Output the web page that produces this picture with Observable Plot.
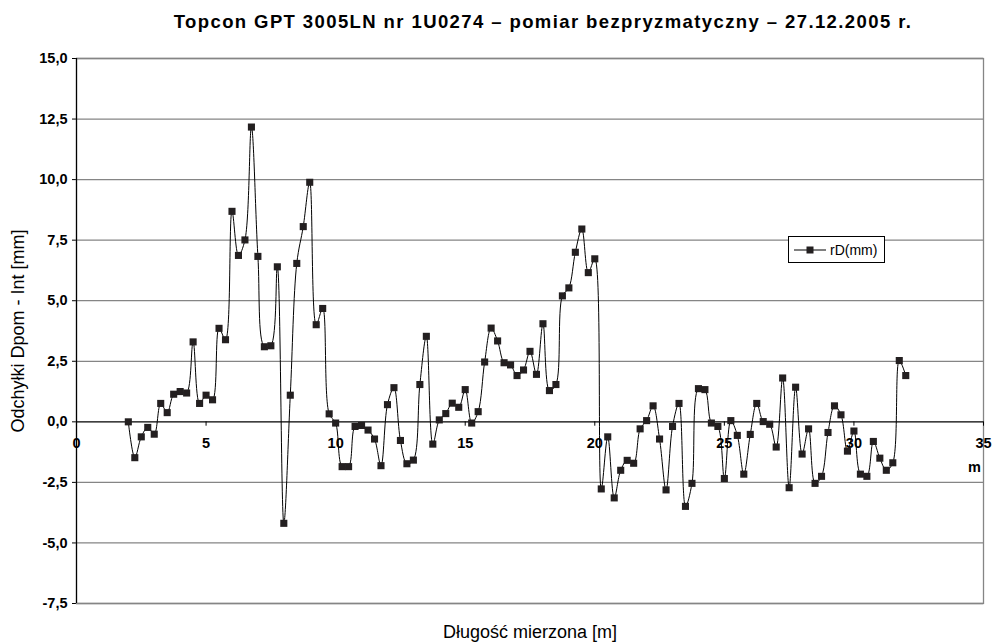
<!DOCTYPE html>
<html>
<head>
<meta charset="utf-8">
<script src="https://cdn.jsdelivr.net/npm/d3@7"></script>
<script src="https://cdn.jsdelivr.net/npm/@observablehq/plot@0.6"></script>
<style>
  html, body { margin: 0; padding: 0; background: #fff; }
  #wrap { position: relative; width: 995px; height: 642px; font-family: "Liberation Sans", Arial, sans-serif; }
  #legend { position: absolute; left: 788px; top: 236px; width: 95px; height: 25px; border: 1px solid #000; background: #fff;
            display: flex; align-items: center; font-size: 14px; color: #000; }
  #legend svg { margin-left: 5px; margin-right: 4px; }
</style>
</head>
<body>
<div id="wrap"></div>
<script>
const title = "Topcon GPT 3005LN nr 1U0274 – pomiar bezpryzmatyczny – 27.12.2005 r.";
const xLabel = "Długość mierzona [m]";
const yLabel = "Odchyłki Dpom - Int [mm]";
const unitLabel = "m";
const seriesName = "rD(mm)";

const xTicks = [0, 5, 10, 15, 20, 25, 30, 35];
const yTicks = [-7.5, -5, -2.5, 0, 2.5, 5, 7.5, 10, 12.5, 15];

const distance = [
  2.00, 2.25, 2.50, 2.75, 3.00, 3.25, 3.50, 3.75, 4.00, 4.25,
  4.50, 4.75, 5.00, 5.25, 5.50, 5.75, 6.00, 6.25, 6.50, 6.75,
  7.00, 7.25, 7.50, 7.75, 8.00, 8.25, 8.50, 8.75, 9.00, 9.25,
  9.50, 9.75, 10.00, 10.25, 10.50, 10.75, 11.00, 11.25, 11.50, 11.75,
  12.00, 12.25, 12.50, 12.75, 13.00, 13.25, 13.50, 13.75, 14.00, 14.25,
  14.50, 14.75, 15.00, 15.25, 15.50, 15.75, 16.00, 16.25, 16.50, 16.75,
  17.00, 17.25, 17.50, 17.75, 18.00, 18.25, 18.50, 18.75, 19.00, 19.25,
  19.50, 19.75, 20.00, 20.25, 20.50, 20.75, 21.00, 21.25, 21.50, 21.75,
  22.00, 22.25, 22.50, 22.75, 23.00, 23.25, 23.50, 23.75, 24.00, 24.25,
  24.50, 24.75, 25.00, 25.25, 25.50, 25.75, 26.00, 26.25, 26.50, 26.75,
  27.00, 27.25, 27.50, 27.75, 28.00, 28.25, 28.50, 28.75, 29.00, 29.25,
  29.50, 29.75, 30.00, 30.25, 30.50, 30.75, 31.00, 31.25, 31.50, 31.75,
  32.00
];
const rD = [
  0.00, -1.48, -0.62, -0.23, -0.51, 0.76, 0.38, 1.14, 1.25, 1.19,
  3.30, 0.76, 1.10, 0.91, 3.86, 3.39, 8.69, 6.87, 7.51, 12.17,
  6.83, 3.10, 3.14, 6.40, -4.19, 1.10, 6.54, 8.06, 9.89, 4.01,
  4.68, 0.33, -0.05, -1.85, -1.85, -0.19, -0.15, -0.34, -0.71, -1.81,
  0.71, 1.41, -0.77, -1.73, -1.58, 1.54, 3.53, -0.92, 0.08, 0.34,
  0.77, 0.60, 1.33, -0.05, 0.42, 2.47, 3.87, 3.34, 2.44, 2.35,
  1.91, 2.14, 2.91, 1.96, 4.05, 1.29, 1.54, 5.20, 5.53, 7.00,
  7.96, 6.16, 6.73, -2.77, -0.62, -3.14, -2.00, -1.59, -1.71, -0.29,
  0.05, 0.66, -0.71, -2.81, -0.19, 0.76, -3.49, -2.54, 1.37, 1.33,
  -0.05, -0.19, -2.34, 0.05, -0.56, -2.16, -0.52, 0.76, 0.01, -0.10,
  -1.04, 1.81, -2.72, 1.43, -1.33, -0.29, -2.54, -2.25, -0.44, 0.66,
  0.29, -1.21, -0.38, -2.16, -2.25, -0.81, -1.50, -2.00, -1.69, 2.53,
  1.91
];

const data = distance.map((x, i) => ({x, y: rD[i]}));
const fmt = d => d.toFixed(1).replace(".", ",");
const ink = "#231f20";

const chart = Plot.plot({
  width: 995,
  height: 642,
  marginLeft: 76,
  marginRight: 12,
  marginTop: 58,
  marginBottom: 39,
  style: {fontFamily: "'Liberation Sans', Arial, sans-serif", fontSize: "14.5px", fontWeight: "bold", color: "#000", background: "#fff"},
  x: {domain: [xTicks[0], xTicks[xTicks.length - 1]], axis: null},
  y: {domain: [yTicks[0], yTicks[yTicks.length - 1]], ticks: yTicks, tickFormat: fmt, tickSize: 4, tickPadding: 5, label: null},
  marks: [
    Plot.ruleY(yTicks.filter(d => d !== 0), {stroke: "#858585", strokeWidth: 1.3}),
    Plot.frame({stroke: "#858585", strokeWidth: 1.3}),
    Plot.ruleY([0], {stroke: "#000", strokeWidth: 1.2}),
    Plot.ruleX([0], {stroke: "#000", strokeWidth: 1.2}),
    Plot.ruleX(xTicks.slice(1), {x: d => d, y1: 0, y2: -0.18, stroke: "#000"}),
    Plot.text(xTicks, {x: d => d, y: 0, text: d => String(d), dy: 22, fontSize: 14.5, fontWeight: "bold", fill: "#000"}),
    Plot.text([unitLabel], {frameAnchor: "right", textAnchor: "middle", y: 0, text: d => d, dx: -9, dy: 46, fontSize: 14.5, fontWeight: "bold", fill: "#000"}),
    Plot.line(data, {x: "x", y: "y", curve: "catmull-rom", stroke: "#000", strokeWidth: 1}),
    Plot.dot(data, {x: "x", y: "y", symbol: "square", r: 4, fill: ink, stroke: "none"}),
    Plot.text([title], {frameAnchor: "top", lineAnchor: "middle", text: d => d, dy: -36, dx: 13, fontSize: 18.5, fontWeight: "bold", fill: "#000"}),
    Plot.text([yLabel], {frameAnchor: "left", textAnchor: "middle", text: d => d, dx: -58, rotate: -90, fontSize: 18, fontWeight: "normal", fill: "#000"}),
    Plot.text([xLabel], {frameAnchor: "bottom", lineAnchor: "middle", text: d => d, dy: 29, fontSize: 18, fontWeight: "normal", fill: "#000"})
  ]
});

const wrap = document.getElementById("wrap");
wrap.appendChild(chart);
// letter spacing for the title text
chart.querySelectorAll("text").forEach(t => { if (t.textContent === title) t.setAttribute("letter-spacing", "1.4px"); });

const legend = document.createElement("div");
legend.id = "legend";
legend.innerHTML = `<svg width="32" height="10"><line x1="0" y1="5" x2="32" y2="5" stroke="#000" stroke-width="1"/><rect x="12.5" y="1.5" width="7" height="7" fill="${ink}"/></svg><span>${seriesName}</span>`;
wrap.appendChild(legend);
</script>
</body>
</html>
